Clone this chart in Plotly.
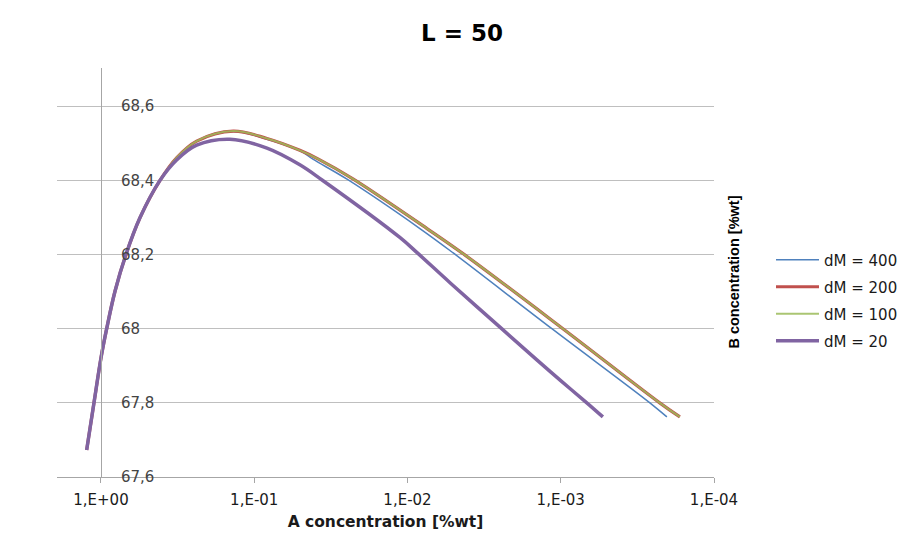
import plotly.graph_objects as go

# A concentration [%wt] (x) and B concentration [%wt] (y) for each dM run
x_dm400 = [1.240, 1.111, 1.000, 0.918, 0.810, 0.687, 0.557, 0.412, 0.321, 0.2375, 0.1371,
           0.0826, 0.0504, 0.0414, 0.0248, 0.00830, 0.00506, 0.001143, 0.000262, 0.000203]
y_dm400 = [67.673, 67.80, 67.921, 68.00, 68.101, 68.20, 68.299, 68.40, 68.461, 68.506, 68.532,
           68.511, 68.480, 68.457, 68.403, 68.270, 68.205, 68.00, 67.80, 67.762]

x_dm200 = [1.240, 1.111, 1.000, 0.918, 0.810, 0.687, 0.557, 0.412, 0.321, 0.2375, 0.1371,
           0.0826, 0.0504, 0.0384, 0.0227, 0.00746, 0.00423, 0.000968, 0.000226, 0.000167]
y_dm200 = [67.673, 67.80, 67.921, 68.00, 68.101, 68.20, 68.299, 68.40, 68.461, 68.506, 68.533,
           68.513, 68.481, 68.458, 68.404, 68.270, 68.199, 68.00, 67.80, 67.762]

x_dm100 = [1.240, 1.111, 1.000, 0.918, 0.810, 0.687, 0.557, 0.412, 0.321, 0.2375, 0.1371,
           0.0826, 0.0504, 0.0384, 0.0227, 0.00746, 0.00423, 0.000968, 0.000226, 0.000167]
y_dm100 = [67.673, 67.80, 67.921, 68.00, 68.101, 68.20, 68.299, 68.40, 68.461, 68.506, 68.533,
           68.513, 68.481, 68.458, 68.404, 68.270, 68.199, 68.00, 67.80, 67.762]

x_dm20 = [1.240, 1.111, 1.000, 0.918, 0.810, 0.687, 0.557, 0.412, 0.321, 0.2375, 0.1442,
          0.0826, 0.0504, 0.0361, 0.01122, 0.00855, 0.00528, 0.00243, 0.001432, 0.001014,
          0.000676, 0.000531]
y_dm20 = [67.673, 67.80, 67.921, 68.00, 68.101, 68.20, 68.299, 68.40, 68.455, 68.495, 68.511,
          68.487, 68.442, 68.401, 68.246, 68.203, 68.124, 68.00, 67.916, 67.862,
          67.80, 67.762]

x_tick_vals = [1, 1e-1, 1e-2, 1e-3, 1e-4]
x_tick_text = ["1,E+00", "1,E-01", "1,E-02", "1,E-03", "1,E-04"]

series = [
    ("dM = 400", x_dm400, y_dm400, "#4F81BD", 1.5),
    ("dM = 200", x_dm200, y_dm200, "#C0504D", 3.2),
    ("dM = 100", x_dm100, y_dm100, "rgba(155,187,89,0.85)", 2.0),
    ("dM = 20", x_dm20, y_dm20, "#8064A2", 3.5),
]

fig = go.Figure()
for name, xs, ys, color, width in series:
    fig.add_trace(go.Scatter(
        x=xs, y=ys, name=name, mode="lines", legendgroup=name,
        line=dict(color=color, width=width, shape="spline", smoothing=1.0),
    ))

fig.update_layout(
    width=905, height=541,
    margin=dict(l=57, r=191, t=68, b=64),
    paper_bgcolor="white", plot_bgcolor="white",
    separators=", ",
    font=dict(family="DejaVu Sans", size=15, color="#1a1a1a"),
    title=dict(text="<b>L = 50</b>", x=0.5105, xref="container", xanchor="center",
               y=1 - 33 / 541, yref="container", yanchor="middle",
               font=dict(family="DejaVu Sans", size=23, color="#000")),
    showlegend=True,
    legend=dict(xref="container", yref="container",
                x=771 / 905, xanchor="left", y=1 - 300.5 / 541, yanchor="middle",
                traceorder="grouped", tracegroupgap=4.5, itemwidth=43,
                font=dict(family="DejaVu Sans", size=15, color="#1a1a1a"),
                bgcolor="rgba(0,0,0,0)"),
    xaxis=dict(
        type="log", range=[0.287, -4],
        tickvals=x_tick_vals, ticktext=x_tick_text,
        showgrid=False, zeroline=False,
        showline=True, linecolor="#a6a6a6", linewidth=1,
        ticks="outside", ticklen=5, tickcolor="#a6a6a6",
        ticklabelstandoff=4,
        title=dict(text="<b>A concentration [%wt]</b>", standoff=8,
                   font=dict(family="DejaVu Sans", size=15.5, color="#1a1a1a")),
    ),
    yaxis=dict(
        range=[67.6, 68.703], dtick=0.2, tick0=67.6,
        anchor="free", position=0.067,
        showgrid=True, gridcolor="#bfbfbf", gridwidth=1,
        zeroline=False,
        showline=True, linecolor="#a6a6a6", linewidth=1,
        ticks="", ticklabelposition="inside", ticklabelstandoff=19,
        ticklabeloverflow="allow",
    ),
)

# B axis title sits on the right, between plot and legend
fig.add_annotation(
    text="<b>B concentration [%wt]</b>", textangle=-90,
    xref="paper", yref="paper", x=1.029, y=0.5,
    xanchor="center", yanchor="middle", showarrow=False,
    font=dict(family="Liberation Sans", size=14.5, color="#000"),
)

fig.write_html("out.html")
